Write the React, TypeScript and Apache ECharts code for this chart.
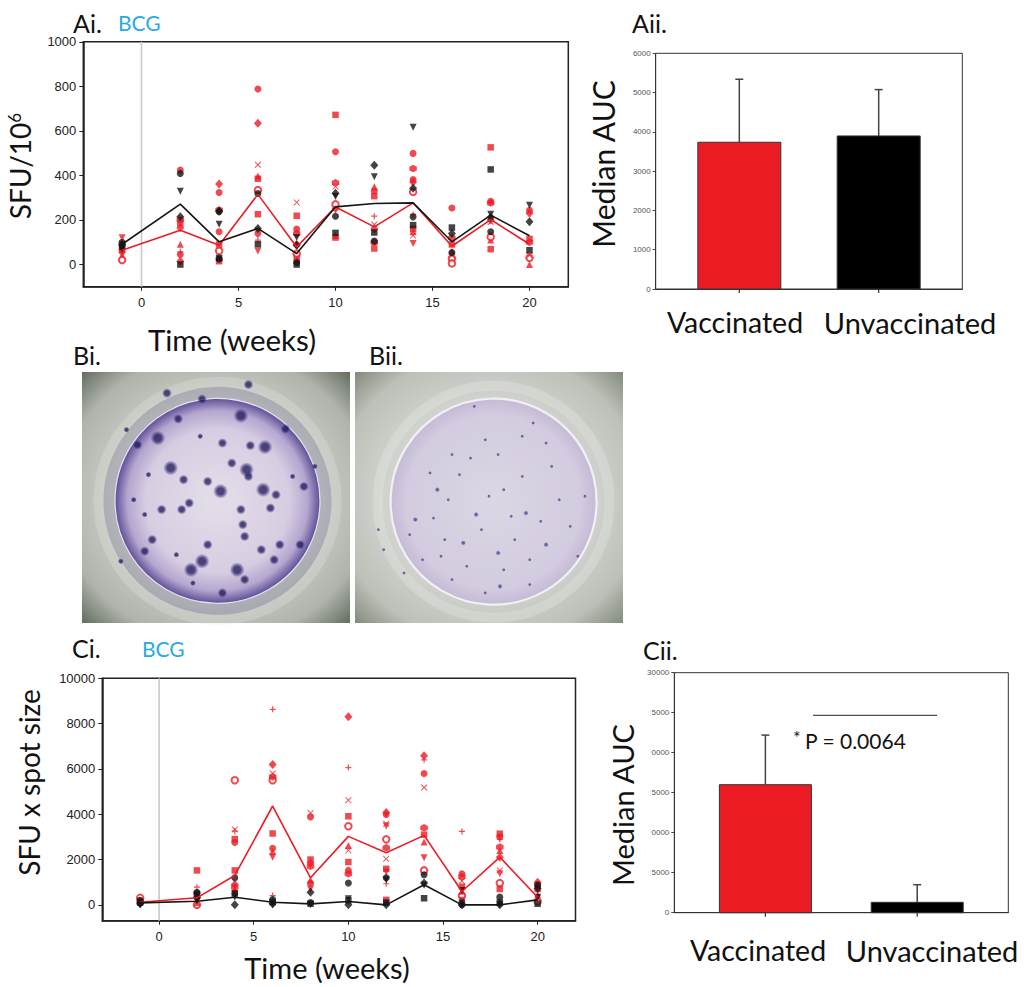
import React, { useEffect, useRef } from "react";
import * as echarts from "echarts";

// ---------- DATA ----------
const weeks = [-1, 2, 4, 6, 8, 10, 12, 14, 16, 18, 20];
const weekTicks = [0, 5, 10, 15, 20];
const aiTicks = [0, 200, 400, 600, 800, 1000];
const ciTicks = [0, 2000, 4000, 6000, 8000, 10000];

// [week, SFU/10^6, subject id]
const aiVaccinated: number[][] = [
  [-1, 120, 4], [-1, 90, 1], [-1, 65, 0], [-1, 55, 2], [-1, 40, 3], [-1, 20, 6],
  [2, 424, 0], [2, 200, 8], [2, 185, 1], [2, 165, 2], [2, 91, 3], [2, 57, 7], [2, 45, 0], [2, 15, 2],
  [4, 361, 2], [4, 323, 0], [4, 245, 8], [4, 147, 0], [4, 90, 1], [4, 61, 6], [4, 30, 3], [4, 15, 1],
  [6, 788, 0], [6, 634, 2], [6, 448, 5], [6, 397, 3], [6, 385, 1], [6, 334, 6], [6, 226, 1], [6, 140, 0], [6, 110, 7], [6, 61, 4],
  [8, 279, 5], [8, 219, 1], [8, 159, 0], [8, 139, 8], [8, 90, 2], [8, 49, 6], [8, 30, 1], [8, 20, 3],
  [10, 672, 1], [10, 506, 0], [10, 367, 8], [10, 350, 5], [10, 270, 6], [10, 250, 2], [10, 130, 3], [10, 121, 1],
  [12, 349, 3], [12, 330, 0], [12, 307, 1], [12, 217, 7], [12, 180, 5], [12, 160, 2], [12, 100, 8], [12, 72, 1],
  [14, 499, 0], [14, 431, 8], [14, 382, 0], [14, 371, 2], [14, 326, 6], [14, 225, 7], [14, 160, 1], [14, 147, 3], [14, 130, 5], [14, 94, 4],
  [16, 254, 0], [16, 120, 8], [16, 90, 1], [16, 60, 3], [16, 40, 5], [16, 27, 6], [16, 5, 6],
  [18, 526, 1], [18, 284, 0], [18, 276, 8], [18, 200, 2], [18, 191, 5], [18, 124, 6], [18, 110, 3], [18, 69, 1],
  [20, 244, 0], [20, 230, 2], [20, 115, 1], [20, 100, 8], [20, 42, 5], [20, 30, 6], [20, 0, 3],
];
const aiUnvaccinated: number[][] = [
  [-1, 100, 0], [-1, 90, 2], [-1, 80, 1], [-1, 70, 4],
  [2, 409, 0], [2, 329, 4], [2, 214, 2], [2, 0, 1],
  [4, 240, 2], [4, 237, 0], [4, 181, 4], [4, 25, 0], [4, 30, 1],
  [6, 319, 0], [6, 162, 2], [6, 91, 1],
  [8, 121, 4], [8, 87, 2], [8, 9, 0], [8, 0, 1],
  [10, 320, 2], [10, 305, 4], [10, 217, 0], [10, 142, 1],
  [12, 446, 2], [12, 394, 4], [12, 144, 1], [12, 105, 0],
  [14, 616, 4], [14, 342, 2], [14, 214, 0], [14, 177, 1],
  [16, 166, 1], [16, 139, 2], [16, 54, 0],
  [18, 427, 1], [18, 226, 4], [18, 212, 2], [18, 147, 0],
  [20, 266, 4], [20, 192, 2], [20, 64, 1],
];
const aiVaccinatedMedian = [64, 154, 87, 315, 79, 258, 169, 277, 82, 202, 91];
const aiUnvaccinatedMedian = [91, 271, 102, 162, 49, 259, 274, 277, 102, 222, 129];

// [week, SFU x spot size, subject id]
const ciVaccinated: number[][] = [
  [-1, 310, 6], [-1, 200, 0], [-1, 150, 1], [-1, 100, 2],
  [2, 1520, 1], [2, 780, 7], [2, 500, 0], [2, 300, 2], [2, 100, 3], [2, 0, 6],
  [4, 5500, 6], [4, 3330, 5], [4, 3250, 7], [4, 2900, 1], [4, 2750, 0], [4, 1520, 1], [4, 900, 2], [4, 780, 8], [4, 650, 3], [4, 500, 4],
  [6, 8630, 7], [6, 6200, 2], [6, 5800, 5], [6, 5650, 8], [6, 5500, 6], [6, 3150, 1], [6, 2500, 0], [6, 2350, 3], [6, 2100, 4], [6, 410, 7],
  [8, 4050, 5], [8, 3880, 0], [8, 2000, 1], [8, 1850, 2], [8, 1700, 8], [8, 1100, 3], [8, 950, 0], [8, 700, 4],
  [10, 8300, 2], [10, 6060, 7], [10, 4620, 5], [10, 3910, 1], [10, 3470, 6], [10, 2620, 3], [10, 2400, 5], [10, 1890, 1], [10, 1520, 0], [10, 1370, 8],
  [12, 4080, 2], [12, 3990, 0], [12, 3580, 5], [12, 3480, 4], [12, 2890, 6], [12, 2520, 8], [12, 2030, 5], [12, 1590, 1], [12, 1450, 4], [12, 930, 7], [12, 220, 1],
  [14, 6580, 2], [14, 6400, 7], [14, 5800, 0], [14, 5180, 5], [14, 3400, 8], [14, 3100, 1], [14, 2770, 3], [14, 2080, 4], [14, 1520, 6],
  [16, 3240, 7], [16, 1370, 0], [16, 1230, 8], [16, 1050, 5], [16, 800, 1], [16, 600, 3], [16, 400, 6], [16, 200, 4],
  [18, 3140, 1], [18, 3000, 0], [18, 2900, 7], [18, 2550, 8], [18, 2400, 3], [18, 2100, 2], [18, 1520, 5], [18, 1370, 4], [18, 960, 6], [18, 700, 1],
  [20, 1000, 2], [20, 900, 0], [20, 700, 1], [20, 450, 3], [20, 300, 5], [20, 150, 6],
];
const ciUnvaccinated: number[][] = [
  [-1, 190, 0], [-1, 100, 1], [-1, 50, 2], [-1, 0, 4],
  [2, 550, 0], [2, 470, 1], [2, 320, 2], [2, 170, 4],
  [4, 1200, 0], [4, 500, 1], [4, 350, 4], [4, 0, 2],
  [6, 230, 0], [6, 120, 1], [6, 50, 2], [6, 0, 4],
  [8, 560, 2], [8, 100, 0], [8, 50, 1], [8, 0, 4],
  [10, 960, 0], [10, 270, 4], [10, 200, 1], [10, 0, 2],
  [12, 1200, 0], [12, 1110, 4], [12, 100, 1], [12, 0, 2],
  [14, 1330, 0], [14, 960, 2], [14, 870, 4], [14, 290, 1],
  [16, 630, 4], [16, 100, 1], [16, 0, 0], [16, 0, 2],
  [18, 340, 0], [18, 100, 1], [18, 0, 2], [18, 0, 4],
  [20, 870, 0], [20, 720, 2], [20, 340, 4], [20, 50, 1],
];
const ciVaccinatedMedian = [115, 310, 1297, 4363, 1195, 3022, 2301, 3066, 589, 2108, 336];
const ciUnvaccinatedMedian = [88, 160, 336, 115, 44, 146, 0, 885, 0, 0, 221];

const aucGroups = ["Vaccinated", "Unvaccinated"];
const aiiMedianAUC = [3735, 3896];
const aiiErrorTop = [5340, 5076];
const ciiMedianAUC = [16000, 1300];
const ciiErrorTop = [22200, 3500];
const ciiTickLabels: Record<number, string> = { 0: "0", 5000: "5000", 10000: "0000", 15000: "5000", 20000: "0000", 25000: "5000", 30000: "30000" };
const pValueText = "P = 0.0064";

// ELISpot well spots [u, v, spot class] (fraction of photo width/height)
const biSpots: number[][] = [
  [0.283, 0.263, 3], [0.359, 0.187, 2], [0.317, 0.084, 2], [0.448, 0.108, 2], [0.593, 0.174, 3], [0.759, 0.227, 2],
  [0.683, 0.299, 3], [0.628, 0.293, 2], [0.524, 0.283, 2], [0.441, 0.256, 1], [0.331, 0.382, 3], [0.379, 0.429, 2],
  [0.248, 0.409, 1], [0.469, 0.436, 2], [0.517, 0.475, 3], [0.559, 0.363, 2], [0.614, 0.389, 3], [0.621, 0.416, 2],
  [0.676, 0.469, 3], [0.724, 0.489, 2], [0.828, 0.456, 2], [0.786, 0.416, 1], [0.4, 0.522, 2], [0.372, 0.548, 2],
  [0.297, 0.548, 2], [0.234, 0.568, 1], [0.193, 0.509, 1], [0.593, 0.548, 2], [0.6, 0.608, 2], [0.607, 0.655, 2],
  [0.703, 0.542, 2], [0.669, 0.708, 2], [0.738, 0.688, 2], [0.814, 0.688, 2], [0.717, 0.748, 2], [0.469, 0.688, 2],
  [0.352, 0.728, 1], [0.448, 0.754, 3], [0.407, 0.788, 3], [0.579, 0.788, 3], [0.607, 0.827, 2], [0.524, 0.88, 2],
  [0.414, 0.841, 1], [0.262, 0.668, 2], [0.234, 0.714, 2], [0.145, 0.754, 1], [0.207, 0.29, 2], [0.166, 0.23, 1],
  [0.621, 0.05, 2], [0.869, 0.376, 1],
];
const biiSpots: number[][] = [
  [0.445, 0.137, 1], [0.624, 0.256, 1], [0.713, 0.283, 1], [0.362, 0.329, 1], [0.431, 0.343, 1], [0.534, 0.329, 1],
  [0.39, 0.409, 1], [0.624, 0.416, 1], [0.307, 0.469, 2], [0.858, 0.495, 1], [0.348, 0.509, 1], [0.225, 0.588, 2],
  [0.293, 0.582, 1], [0.452, 0.568, 2], [0.583, 0.575, 1], [0.638, 0.562, 2], [0.693, 0.595, 1], [0.204, 0.648, 1],
  [0.335, 0.668, 1], [0.404, 0.681, 2], [0.472, 0.628, 1], [0.534, 0.721, 2], [0.713, 0.688, 2], [0.252, 0.748, 1],
  [0.321, 0.734, 1], [0.417, 0.774, 1], [0.555, 0.788, 1], [0.652, 0.748, 1], [0.541, 0.854, 2], [0.652, 0.847, 1],
  [0.486, 0.88, 1], [0.362, 0.827, 1], [0.183, 0.801, 1], [0.107, 0.708, 1], [0.087, 0.628, 1], [0.762, 0.509, 1],
  [0.803, 0.615, 1], [0.596, 0.668, 1], [0.5, 0.495, 1], [0.28, 0.402, 1], [0.734, 0.376, 1], [0.486, 0.27, 1],
  [0.665, 0.203, 1], [0.555, 0.469, 1], [0.831, 0.734, 1],
];

// ---------- STYLE ----------
const RED = "#ec1c24";
const BLACK = "#151515";
const FONT = "Lato";
const TICKFONT = "Liberation Sans";

const subjectMarkers: Record<number, any> = {
  0: { symbol: "circle", symbolSize: 7 },
  1: { symbol: "rect", symbolSize: 6.5 },
  2: { symbol: "diamond", symbolSize: [8, 9] },
  3: { symbol: "triangle", symbolSize: 7 },
  4: { symbol: "triangle", symbolSize: 7, symbolRotate: 180 },
  5: { symbol: "path://M1,0L5,4L9,0L10,1L6,5L10,9L9,10L5,6L1,10L0,9L4,5L0,1Z", symbolSize: 6.5 },
  6: { symbol: "emptyCircle", symbolSize: 6.5, hollow: true },
  7: { symbol: "path://M4,0H6V4H10V6H6V10H4V6H0V4H4Z", symbolSize: 6 },
  8: { symbol: "path://M5,0L9.33,2.5L9.33,7.5L5,10L0.67,7.5L0.67,2.5Z", symbolSize: 7.5 },
};

function scatterSeries(data: number[][], color: string, axis: number, z: number) {
  const ids = Array.from(new Set(data.map((d) => d[2])));
  return ids.map((id) => {
    const m = subjectMarkers[id];
    return {
      type: "scatter",
      xAxisIndex: axis,
      yAxisIndex: axis,
      data: data.filter((d) => d[2] === id).map((d) => [d[0], d[1]]),
      symbol: m.symbol,
      symbolSize: m.symbolSize,
      symbolRotate: m.symbolRotate || 0,
      itemStyle: m.hollow ? { color, borderColor: color, borderWidth: 1.5 } : { color },
      z,
      silent: true,
    };
  });
}

function medianLine(values: number[], color: string, axis: number) {
  return {
    type: "line",
    xAxisIndex: axis,
    yAxisIndex: axis,
    data: weeks.map((w, i) => [w, values[i]]),
    showSymbol: false,
    lineStyle: { color, width: 1.6 },
    z: 6,
    silent: true,
  };
}

function bcgLine(axis: number, lo: number, hi: number) {
  return {
    type: "line",
    xAxisIndex: axis,
    yAxisIndex: axis,
    data: [[0, lo], [0, hi]],
    showSymbol: false,
    lineStyle: { color: "#c9c9c9", width: 1.6 },
    z: 1,
    silent: true,
  };
}

function barSeries(values: number[], errTop: number[], axis: number, barWidth: number) {
  return {
    type: "custom",
    xAxisIndex: axis,
    yAxisIndex: axis,
    data: values.map((v, i) => [i + 1, v, errTop[i], i]),
    renderItem: (params: any, api: any) => {
      const x = api.value(0);
      const top = api.coord([x, api.value(1)]);
      const base = api.coord([x, 0]);
      const err = api.coord([x, api.value(2)]);
      const fill = api.value(3) === 0 ? RED : "#000";
      return {
        type: "group",
        children: [
          { type: "line", shape: { x1: top[0], y1: top[1], x2: err[0], y2: err[1] }, style: { stroke: "#444", lineWidth: 1.5 } },
          { type: "line", shape: { x1: err[0] - 4, y1: err[1], x2: err[0] + 4, y2: err[1] }, style: { stroke: "#444", lineWidth: 1.5 } },
          { type: "rect", shape: { x: top[0] - barWidth / 2, y: top[1], width: barWidth, height: base[1] - top[1] }, style: { fill, stroke: "#333", lineWidth: 1 } },
          { type: "line", shape: { x1: base[0], y1: base[1], x2: base[0], y2: base[1] + 4 }, style: { stroke: "#333", lineWidth: 1.2 } },
        ],
      };
    },
    z: 3,
    silent: true,
  };
}

function spotSeries(spots: number[][], axis: number, sizes: number[], dark: string, halo: string) {
  return {
    type: "scatter",
    xAxisIndex: axis,
    yAxisIndex: axis,
    data: spots.map((s) => [s[0], s[1], s[2]]),
    symbol: "circle",
    symbolSize: (v: number[]) => sizes[v[2]],
    itemStyle: {
      color: {
        type: "radial", x: 0.5, y: 0.5, r: 0.5,
        colorStops: [
          { offset: 0, color: dark },
          { offset: 0.45, color: dark },
          { offset: 0.75, color: halo },
          { offset: 1, color: "rgba(90,80,160,0)" },
        ],
      },
    },
    z: 4,
    silent: true,
  };
}

function timeXAxis(grid: number) {
  return {
    type: "value", gridIndex: grid, min: -3, max: 22,
    axisLine: { onZero: false, lineStyle: { color: "#222", width: 1.5 } },
    axisTick: { show: true, length: 4, customValues: weekTicks, lineStyle: { color: "#222" } },
    axisLabel: { customValues: weekTicks, fontSize: 13, color: "#222", fontFamily: TICKFONT, margin: 9, formatter: (v: number) => String(v) },
    splitLine: { show: false },
  };
}

function countYAxis(grid: number, min: number, max: number, ticks: number[]) {
  return {
    type: "value", gridIndex: grid, min, max,
    axisLine: { show: true, onZero: false, lineStyle: { color: "#222", width: 1.5 } },
    axisTick: { show: true, length: 4, customValues: ticks, lineStyle: { color: "#222" } },
    axisLabel: { customValues: ticks, fontSize: 13, color: "#222", fontFamily: TICKFONT, margin: 7, formatter: (v: number) => String(v) },
    splitLine: { show: false },
  };
}

function groupXAxis(grid: number) {
  return {
    type: "value", gridIndex: grid, min: 0.4, max: 2.6,
    axisLine: { onZero: false, lineStyle: { color: "#333", width: 1 } },
    axisTick: { show: false },
    axisLabel: { show: false },
    splitLine: { show: false },
  };
}

function aucYAxis(grid: number, max: number, interval: number, fmt: (v: number) => string) {
  return {
    type: "value", gridIndex: grid, min: 0, max, interval,
    axisLine: { show: true, lineStyle: { color: "#333", width: 1 } },
    axisTick: { show: true, length: 3, lineStyle: { color: "#444" } },
    axisLabel: { fontSize: 8, color: "#555", fontFamily: TICKFONT, margin: 5, formatter: fmt },
    splitLine: { show: false },
  };
}

function txt(text: string, x: number, y: number, size: number, opts: any = {}) {
  return {
    type: "text", x, y, rotation: opts.rotation || 0, z: 20, silent: true,
    style: {
      text, fontSize: size, fontFamily: FONT, fill: opts.color || "#111",
      align: opts.align || "center", verticalAlign: "middle", rich: opts.rich,
    },
  };
}

const App: React.FC = () => {
  const ref = useRef<HTMLDivElement>(null);
  useEffect(() => {
    if (!ref.current) return;
    const chart = echarts.init(ref.current, null, { renderer: "svg" });
    const radial = (stops: [number, string][], r = 0.5) => ({
      type: "radial", x: 0.5, y: 0.5, r,
      colorStops: stops.map(([offset, color]) => ({ offset, color })),
    });
    const option: any = {
      animation: false,
      backgroundColor: "#fff",
      grid: [
        { left: 83.3, top: 41.8, width: 485, height: 245, show: true, borderColor: "#222", borderWidth: 1.5, backgroundColor: "transparent" },
        { left: 655.7, top: 53.3, width: 306.6, height: 235.7, show: true, borderColor: "#333", borderWidth: 1, backgroundColor: "transparent" },
        { left: 102.3, top: 678.3, width: 473.2, height: 242.4, show: true, borderColor: "#222", borderWidth: 1.5, backgroundColor: "transparent" },
        { left: 674.3, top: 672.7, width: 334, height: 240, show: true, borderColor: "#333", borderWidth: 1, backgroundColor: "transparent" },
        { left: 82, top: 372, width: 268, height: 251, show: false },
        { left: 355, top: 372, width: 268, height: 251, show: false },
      ],
      xAxis: [
        timeXAxis(0),
        groupXAxis(1),
        timeXAxis(2),
        groupXAxis(3),
        { type: "value", gridIndex: 4, min: 0, max: 1, show: false },
        { type: "value", gridIndex: 5, min: 0, max: 1, show: false },
      ],
      yAxis: [
        countYAxis(0, -100, 1000, aiTicks),
        aucYAxis(1, 6000, 1000, (v: number) => String(v)),
        countYAxis(2, -700, 10000, ciTicks),
        aucYAxis(3, 30000, 5000, (v: number) => ciiTickLabels[v] ?? String(v)),
        { type: "value", gridIndex: 4, min: 0, max: 1, inverse: true, show: false },
        { type: "value", gridIndex: 5, min: 0, max: 1, inverse: true, show: false },
      ],
      series: [
        bcgLine(0, -100, 1000),
        ...scatterSeries(aiVaccinated, RED, 0, 3),
        ...scatterSeries(aiUnvaccinated, BLACK, 0, 4),
        medianLine(aiVaccinatedMedian, RED, 0),
        medianLine(aiUnvaccinatedMedian, BLACK, 0),
        barSeries(aiiMedianAUC, aiiErrorTop, 1, 83),
        bcgLine(2, -700, 10000),
        ...scatterSeries(ciVaccinated, RED, 2, 3),
        ...scatterSeries(ciUnvaccinated, BLACK, 2, 4),
        medianLine(ciVaccinatedMedian, RED, 2),
        medianLine(ciUnvaccinatedMedian, BLACK, 2),
        barSeries(ciiMedianAUC, ciiErrorTop, 3, 92),
        spotSeries(biSpots, 4, [0, 6, 10, 15], "rgba(28,22,85,0.95)", "rgba(60,48,130,0.55)"),
        spotSeries(biiSpots, 5, [0, 4, 5.5, 7], "rgba(70,55,135,0.9)", "rgba(110,95,165,0.4)"),
      ],
      graphic: [
        // photo Bi
        { type: "rect", z: 0, silent: true, shape: { x: 82, y: 372, width: 268, height: 251 }, style: { fill: radial([[0, "#d9d8d6"], [0.55, "#c8cbc5"], [0.8, "#aeb3ab"], [1, "#5d6659"]], 0.72) } },
        { type: "circle", z: 0, silent: true, shape: { cx: 217.5, cy: 500.8, r: 119 }, style: { fill: "none", stroke: "rgba(225,228,222,0.3)", lineWidth: 10 } },
        { type: "circle", z: 0, silent: true, shape: { cx: 217.5, cy: 500.8, r: 108 }, style: { fill: "none", stroke: "rgba(70,60,130,0.18)", lineWidth: 12 } },
        { type: "circle", z: 0, silent: true, shape: { cx: 217.5, cy: 500.8, r: 102.5 }, style: { fill: radial([[0, "#e4dee9"], [0.7, "#d7cde2"], [0.88, "#b4a6cf"], [1, "#5e4f98"]]), stroke: "#e6e2ec", lineWidth: 1.2 } },
        // photo Bii
        { type: "rect", z: 0, silent: true, shape: { x: 355, y: 372, width: 268, height: 251 }, style: { fill: radial([[0, "#e0dfdf"], [0.55, "#d0d2cd"], [0.8, "#bcc0b8"], [1, "#7c8577"]], 0.72) } },
        { type: "circle", z: 0, silent: true, shape: { cx: 493.6, cy: 501.7, r: 116 }, style: { fill: "none", stroke: "rgba(236,236,232,0.28)", lineWidth: 10 } },
        { type: "circle", z: 0, silent: true, shape: { cx: 493.6, cy: 501.7, r: 103 }, style: { fill: radial([[0, "#dcd6e4"], [0.85, "#d3cbdf"], [1, "#c4bad6"]]), stroke: "#f2f0f4", lineWidth: 2.2 } },
        // panel labels
        txt("Ai.", 73, 23, 25, { align: "left" }),
        txt("BCG", 118, 22, 21, { align: "left", color: "#29abe2" }),
        txt("Aii.", 632, 23, 25, { align: "left" }),
        txt("Bi.", 73, 355, 25, { align: "left" }),
        txt("Bii.", 369, 355, 25, { align: "left" }),
        txt("Ci.", 72, 648, 25, { align: "left" }),
        txt("BCG", 142, 648, 21, { align: "left", color: "#29abe2" }),
        txt("Cii.", 643, 650, 25, { align: "left" }),
        // axis titles
        txt("Time (weeks)", 232, 339, 29.5),
        txt("Time (weeks)", 327, 967, 29),
        txt("{a|SFU/10}{b|6}", 19.6, 166, 28, { rotation: Math.PI / 2, rich: { a: { fontSize: 28, fontFamily: FONT, fill: "#111" }, b: { fontSize: 17, fontFamily: FONT, fill: "#111", verticalAlign: "top" } } }),
        txt("SFU x spot size", 28.7, 782.5, 28, { rotation: Math.PI / 2 }),
        txt("Median AUC", 602.5, 164, 30, { rotation: Math.PI / 2 }),
        txt("Median AUC", 622.5, 805, 29, { rotation: Math.PI / 2 }),
        txt(aucGroups[0], 735, 322, 28.5),
        txt(aucGroups[1], 910, 322, 29),
        txt(aucGroups[0], 758, 950, 28.5),
        txt(aucGroups[1], 932, 950, 29),
        // significance
        { type: "line", z: 20, silent: true, shape: { x1: 813, y1: 715.3, x2: 937, y2: 715.3 }, style: { stroke: "#222", lineWidth: 1 } },
        txt("*", 793, 737, 18, { align: "left" }),
        txt(pValueText, 805, 740, 21, { align: "left" }),
      ],
    };
    chart.setOption(option);
    return () => chart.dispose();
  }, []);
  return <div ref={ref} style={{ position: "absolute", left: 0, top: 0, width: 1024, height: 987 }} />;
};

export default App;
